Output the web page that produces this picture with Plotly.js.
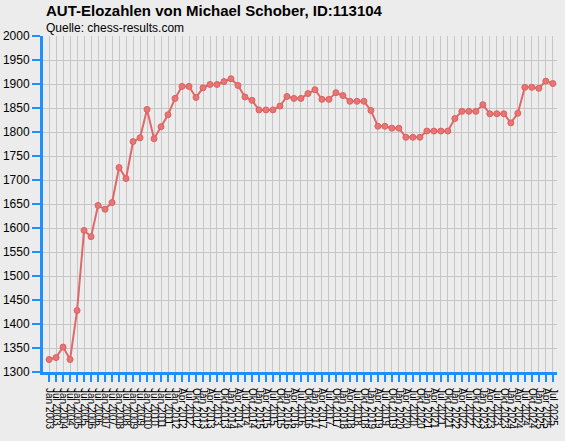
<!DOCTYPE html>
<html>
<head>
<meta charset="utf-8">
<script src="https://cdn.plot.ly/plotly-3.0.1.min.js"></script>
<style>
  html, body { margin: 0; padding: 0; background: #ececec; }
  #graph { width: 565px; height: 441px; }
</style>
</head>
<body>
<div id="graph"></div>
<script>
// Elo list dates: semi-annual until Jan 2012, then quarterly
const listDates = [
  "Jan 2003", "Jul 2003", "Jan 2004", "Jul 2004", "Jan 2005", "Jul 2005",
  "Jan 2006", "Jul 2006", "Jan 2007", "Jul 2007", "Jan 2008", "Jul 2008",
  "Jan 2009", "Jul 2009", "Jan 2010", "Jul 2010", "Jan 2011", "Jul 2011",
  "Jan 2012", "Apr 2012", "Jul 2012", "Okt 2012",
  "Jan 2013", "Apr 2013", "Jul 2013", "Okt 2013",
  "Jan 2014", "Apr 2014", "Jul 2014", "Okt 2014",
  "Jan 2015", "Apr 2015", "Jul 2015", "Okt 2015",
  "Jan 2016", "Apr 2016", "Jul 2016", "Okt 2016",
  "Jan 2017", "Apr 2017", "Jul 2017", "Okt 2017",
  "Jan 2018", "Apr 2018", "Jul 2018", "Okt 2018",
  "Jan 2019", "Apr 2019", "Jul 2019", "Okt 2019",
  "Jan 2020", "Apr 2020", "Jul 2020", "Okt 2020",
  "Jan 2021", "Apr 2021", "Jul 2021", "Okt 2021",
  "Jan 2022", "Apr 2022", "Jul 2022", "Okt 2022",
  "Jan 2023", "Apr 2023", "Jul 2023", "Okt 2023",
  "Jan 2024", "Apr 2024", "Jul 2024", "Okt 2024",
  "Jan 2025", "Apr 2025", "Jul 2025"
];

const eloValues = [
  1326, 1330, 1352, 1326, 1428, 1595, 1582, 1647, 1639, 1653,
  1726, 1703, 1780, 1788, 1847, 1786, 1811, 1836, 1870, 1895,
  1895, 1872, 1892, 1899, 1899, 1905, 1911, 1897, 1873, 1866,
  1846, 1846, 1846, 1854, 1874, 1870, 1870, 1880, 1888, 1868,
  1868, 1882, 1876, 1864, 1864, 1864, 1845, 1812, 1812, 1808,
  1808, 1789, 1789, 1789, 1802, 1802, 1802, 1802, 1828, 1843,
  1843, 1843, 1857, 1838, 1838, 1838, 1819, 1839, 1893, 1893,
  1891, 1906, 1901
];

const yTicks = [1300, 1350, 1400, 1450, 1500, 1550, 1600, 1650, 1700,
                1750, 1800, 1850, 1900, 1950, 2000];

const blue = "#1e8fff";

const trace = {
  type: "scatter",
  mode: "lines+markers",
  x: listDates,
  y: eloValues,
  line: { color: "#e06868", width: 2 },
  marker: {
    size: 6,
    color: "#e87474",
    line: { color: "#dc6262", width: 1 }
  },
  hoverinfo: "x+y"
};

const layout = {
  width: 565,
  height: 441,
  paper_bgcolor: "#ececec",
  plot_bgcolor: "#ececec",
  showlegend: false,
  margin: { l: 43, r: 8, t: 36, b: 69, pad: 0 },
  font: { family: "Liberation Sans, Arial, sans-serif", color: "#000" },
  xaxis: {
    type: "category",
    range: [-0.87, 72.6],
    tickmode: "array",
    tickvals: listDates,
    ticktext: listDates,
    tickangle: 90,
    tickfont: { size: 10, color: "#000" },
    ticklabelstandoff: 4,
    ticks: "outside",
    ticklen: 7,
    tickwidth: 2,
    tickcolor: blue,
    showline: true,
    linecolor: blue,
    linewidth: 3,
    showgrid: true,
    gridcolor: "#c6c6c6",
    gridwidth: 1,
    zeroline: false,
    fixedrange: true
  },
  yaxis: {
    range: [1300, 2000],
    tickmode: "array",
    tickvals: yTicks,
    ticktext: yTicks.map(String),
    tickfont: { size: 12, color: "#000" },
    ticks: "outside",
    ticklen: 8,
    tickwidth: 2.5,
    tickcolor: blue,
    showline: true,
    linecolor: blue,
    linewidth: 3,
    showgrid: true,
    gridcolor: "#c6c6c6",
    gridwidth: 1,
    zeroline: false,
    fixedrange: true
  },
  annotations: [
    {
      text: "<b>AUT-Elozahlen von Michael Schober, ID:113104</b>",
      xref: "paper", yref: "paper",
      x: 0, y: 1,
      xanchor: "left", yanchor: "bottom",
      xshift: 1, yshift: 15,
      showarrow: false,
      font: { size: 15, color: "#000" }
    },
    {
      text: "Quelle: chess-results.com",
      xref: "paper", yref: "paper",
      x: 0, y: 1,
      xanchor: "left", yanchor: "bottom",
      xshift: 1, yshift: -1,
      showarrow: false,
      font: { size: 12, color: "#000" }
    }
  ]
};

Plotly.newPlot("graph", [trace], layout, { displayModeBar: false, staticPlot: true });
</script>
</body>
</html>
